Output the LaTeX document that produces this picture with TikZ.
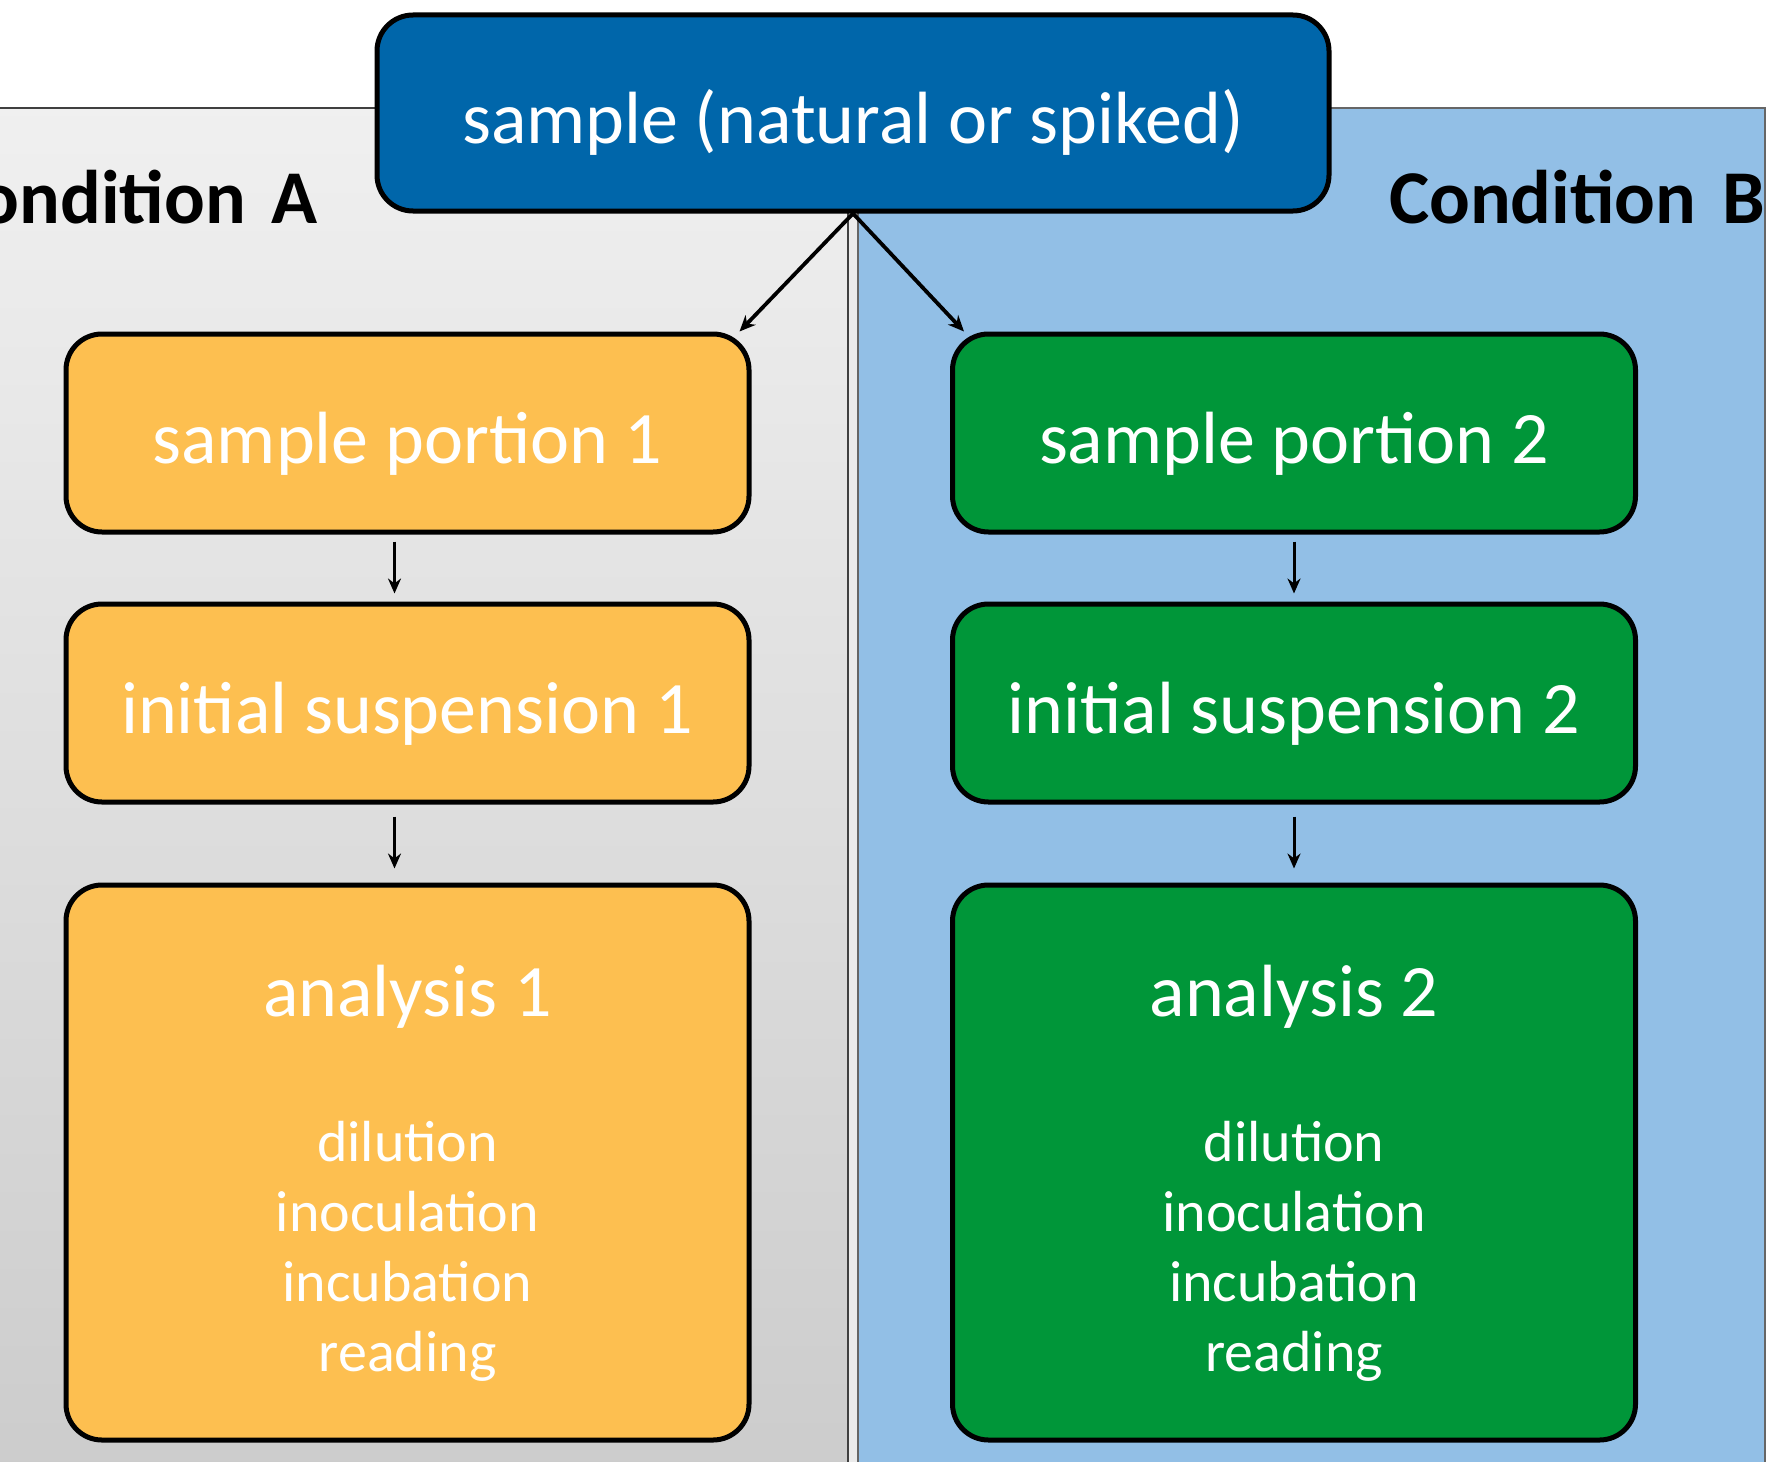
\documentclass[tikz,border=0pt]{standalone}
\usepackage{fontspec}
\setmainfont{Carlito}
\usepackage{tikz}
\usetikzlibrary{arrows.meta}
\definecolor{deepblue}{HTML}{0066AA}
\definecolor{amber}{HTML}{FDBF50}
\definecolor{leafgreen}{HTML}{009639}
\definecolor{paleblue}{HTML}{92BFE6}

\begin{document}
\begin{tikzpicture}[
  x=0.5pt, y=-0.5pt,
  font=\fontsize{37}{44}\selectfont,
  box/.style={draw=black, line width=2.5pt, rounded corners=18pt, text=white, minimum width=341.5pt, minimum height=99pt, inner sep=0pt, text height=38pt, text depth=8pt},
  boxA/.style={box, fill=amber},
  boxB/.style={box, fill=leafgreen},
  head/.style={font=\fontsize{38}{44}\selectfont\bfseries},
  steps/.style={font=\fontsize{29}{35}\selectfont, text=white, align=center},
  arr/.style={-{Stealth[length=7.5pt,width=6.5pt]}, line width=1.5pt},
  split/.style={-{Stealth[length=8pt,width=7pt]}, line width=1.9pt}
]
\clip (0,0) rectangle (1770,1461);
% background panels for the two conditions
\fill[black!8] (846,108) rectangle (860,1480);
\draw[black!75, line width=1pt, top color=black!6, bottom color=black!20] (-10,108) rectangle (848,1480);
\draw[black!60, line width=0.8pt, fill=paleblue] (858,108) rectangle (1765,1480);
\node[head, anchor=base east] (condA) at (325,223) {Condition\hspace{13pt}A};
\node[head, anchor=base west] (condB) at (1382,223) {Condition\hspace{13pt}B};
% top: the sample
\node[box, fill=deepblue, minimum width=476pt, minimum height=98pt] (sample) at (853,113) {sample (natural or spiked)};
% left column: condition A
\node[boxA] (por1) at (407.5,433) {sample portion 1};
\node[boxA] (sus1) at (407.5,703) {initial suspension 1};
\node[boxA, minimum height=277.5pt] (ana1) at (407.5,1162.5) {};
\node[text=white] (ana1t) at (407.5,997) {analysis 1};
\node[steps] (ana1s) at (407.5,1251) {dilution\\inoculation\\incubation\\reading};
% right column: condition B
\node[boxB] (por2) at (1294,433) {sample portion 2};
\node[boxB] (sus2) at (1294,703) {initial suspension 2};
\node[boxB, minimum height=277.5pt] (ana2) at (1294,1162.5) {};
\node[text=white] (ana2t) at (1294,997) {analysis 2};
\node[steps] (ana2s) at (1294,1251) {dilution\\inoculation\\incubation\\reading};

\draw[split] (sample.south) -- ([xshift=-6pt]por1.north east);
\draw[split] (sample.south) -- ([xshift=7pt]por2.north west);
\draw[arr, shorten <=3.5pt, shorten >=4pt] ([xshift=-6.5pt]por1.south) -- ([xshift=-6.5pt]sus1.north);
\draw[arr, shorten <=6pt, shorten >=7pt] ([xshift=-6.5pt]sus1.south) -- ([xshift=-6.5pt]ana1.north);
\draw[arr, shorten <=3.5pt, shorten >=4pt] (por2.south) -- (sus2.north);
\draw[arr, shorten <=6pt, shorten >=7pt] (sus2.south) -- (ana2.north);
\end{tikzpicture}
\end{document}
